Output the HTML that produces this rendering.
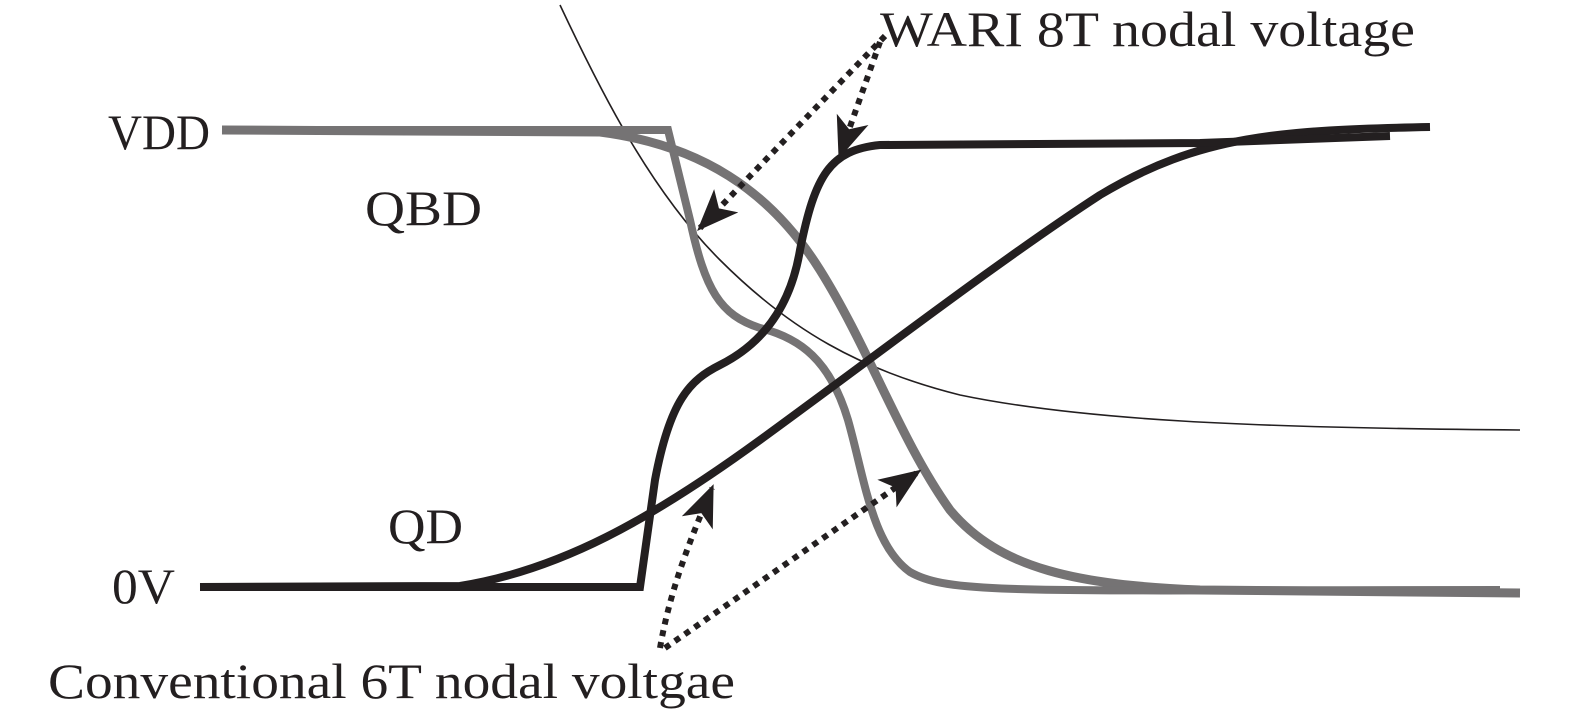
<!DOCTYPE html>
<html><head><style>
html,body{margin:0;padding:0;background:#fff;}
svg{display:block;}
text{font-family:"Liberation Serif",serif;font-size:50px;fill:#231f20;}
</style></head><body>
<svg width="1575" height="717" viewBox="0 0 1575 717" xmlns="http://www.w3.org/2000/svg">
<defs>
<marker id="ah" viewBox="0 0 20 20" refX="18" refY="10" markerWidth="42" markerHeight="42" markerUnits="userSpaceOnUse" orient="auto">
<path d="M0,2 L20,10 L0,18 L5,10 Z" fill="#231f20"/>
</marker>
</defs>
<path d="M560,5 C600,90 650,190 720,260 C790,330 860,370 960,395 C1080,420 1250,428 1520,430" fill="none" stroke="#231f20" stroke-width="1.6"/>
<path d="M222,130 L600,132 C700,145 770,190 820,270 C870,350 900,440 950,510 C1000,570 1080,585 1200,590 L1520,593" fill="none" stroke="#757374" stroke-width="9"/>
<path d="M222,130 L668,130 L690,220 C705,290 720,315 760,328 C800,338 830,360 848,420 C865,480 872,545 910,572 C950,595 1020,590 1500,590" fill="none" stroke="#757374" stroke-width="8"/>
<path d="M200,587 L460,586 C560,570 650,520 760,440 C870,360 1000,260 1100,195 C1200,135 1280,130 1430,127" fill="none" stroke="#231f20" stroke-width="8"/>
<path d="M200,587 L640,587 L655,480 C670,400 690,380 720,365 C760,345 790,310 800,250 C815,175 830,150 880,145 L1200,143 L1390,136" fill="none" stroke="#231f20" stroke-width="8"/>
<g fill="none" stroke="#231f20" stroke-width="6" stroke-dasharray="6,6">
<line x1="885" y1="36" x2="700" y2="228" marker-end="url(#ah)"/>
<line x1="880" y1="42" x2="840" y2="155" marker-end="url(#ah)"/>
<path d="M660,648 C670,590 690,540 712,488" marker-end="url(#ah)"/>
<line x1="665" y1="648" x2="918" y2="472" marker-end="url(#ah)"/>
</g>
<text x="880" y="46" textLength="535" lengthAdjust="spacingAndGlyphs">WARI 8T nodal voltage</text>
<text x="108" y="149" textLength="102" lengthAdjust="spacingAndGlyphs">VDD</text>
<text x="365" y="225" textLength="117" lengthAdjust="spacingAndGlyphs">QBD</text>
<text x="388" y="543" textLength="75" lengthAdjust="spacingAndGlyphs">QD</text>
<text x="112" y="603" textLength="63" lengthAdjust="spacingAndGlyphs">0V</text>
<text x="48" y="698" textLength="687" lengthAdjust="spacingAndGlyphs">Conventional 6T nodal voltgae</text>
</svg>
</body></html>
